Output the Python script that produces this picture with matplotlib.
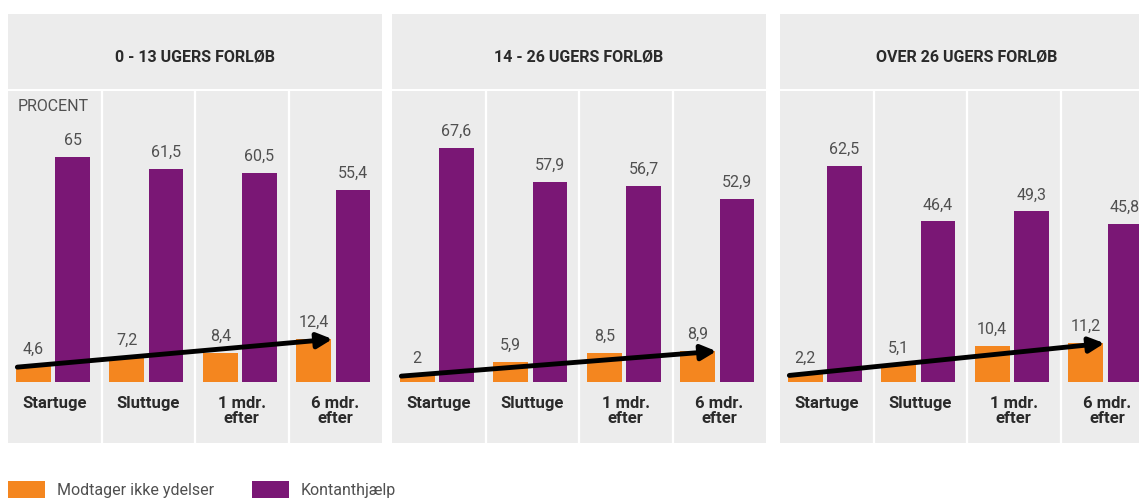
import matplotlib
matplotlib.use("Agg")
from matplotlib import pyplot as plt
from matplotlib.patches import Rectangle

W, H = 1139, 498

panels = ["0 - 13 UGERS FORLØB", "14 - 26 UGERS FORLØB", "OVER 26 UGERS FORLØB"]
categories = ["Startuge", "Sluttuge", "1 mdr.\nefter", "6 mdr.\nefter"]
ikke_ydelser = [[4.6, 7.2, 8.4, 12.4],
                [2, 5.9, 8.5, 8.9],
                [2.2, 5.1, 10.4, 11.2]]
kontanthjaelp = [[65, 61.5, 60.5, 55.4],
                 [67.6, 57.9, 56.7, 52.9],
                 [62.5, 46.4, 49.3, 45.8]]
legend_labels = ["Modtager ikke ydelser", "Kontanthjælp"]

ORANGE = "#f4861f"
PURPLE = "#7a1775"
PANEL_BG = "#ececec"
GREY_TXT = "#505050"
DARK_TXT = "#2a2a2a"
FONT = "Roboto"

plt.rcParams['font.family'] = [FONT, 'DejaVu Sans']

fig = plt.figure(figsize=(W / 100, H / 100), dpi=100)


def fbox(x0, y0, x1, y1):
    # pixel box (top-left origin) -> figure fraction rect
    return [x0 / W, 1 - y1 / H, (x1 - x0) / W, (y1 - y0) / H]


panel_left = [8, 392, 780]
panel_w = 374
top, head_bot, body_bot = 14, 89, 443
baseline = 382
px_per_unit = 3.46

fmt = lambda v: ("%g" % v).replace(".", ",")

for p, title in enumerate(panels):
    x0 = panel_left[p]
    x1 = x0 + panel_w
    # header
    fig.patches.append(Rectangle((x0 / W, 1 - head_bot / H), panel_w / W,
                                 (head_bot - top) / H, transform=fig.transFigure,
                                 facecolor=PANEL_BG, edgecolor="none"))
    fig.text((x0 + x1) / 2 / W, 1 - 57 / H, title, ha="center", va="center",
             fontsize=11.5, fontweight="bold", color=DARK_TXT)

    ax = fig.add_axes(fbox(x0, head_bot + 2, x1, body_bot))
    ax.set_facecolor(PANEL_BG)
    for s in ax.spines.values():
        s.set_visible(False)
    ax.set_xticks([])
    ax.set_yticks([])
    ax.set_xlim(0, 4)
    ax.set_ylim(-(body_bot - baseline) / px_per_unit,
                (baseline - head_bot - 2) / px_per_unit)
    for xv in (1, 2, 3):
        ax.axvline(xv, color="white", lw=1.6)

    xs = range(len(categories))
    xo = [i + 0.27 for i in xs]
    xp = [i + 0.69 for i in xs]
    ax.bar(xo, ikke_ydelser[p], width=0.375, color=ORANGE)
    ax.bar(xp, kontanthjaelp[p], width=0.365, color=PURPLE)
    for i in xs:
        ax.text(xo[i], ikke_ydelser[p][i] + 2.6, fmt(ikke_ydelser[p][i]),
                ha="center", va="bottom", fontsize=11.5, color=GREY_TXT)
        ax.text(xp[i], kontanthjaelp[p][i] + 2.6, fmt(kontanthjaelp[p][i]),
                ha="center", va="bottom", fontsize=11.5, color=GREY_TXT)
        ax.text(i + 0.5, -4.0, categories[i], ha="center", va="top",
                fontsize=12, fontweight="bold", color=DARK_TXT, linespacing=1.0)

    # trend arrow through the orange bars
    vals = ikke_ydelser[p]
    ax.annotate("", xy=(3.47, vals[-1]), xytext=(0.1, vals[0] - 0.3),
                arrowprops=dict(arrowstyle="-|>,head_length=0.9,head_width=0.45",
                                color="black", lw=3.5, shrinkA=0, shrinkB=0))
    if p == 0:
        ax.text(0.1, (baseline - 106) / px_per_unit, "PROCENT", ha="left",
                va="center", fontsize=11.5, color=GREY_TXT)

# legend
for k, (lab, col) in enumerate(zip(legend_labels, [ORANGE, PURPLE])):
    lx = [8, 252][k]
    fig.patches.append(Rectangle((lx / W, 1 - 500 / H), 37 / W, 19 / H,
                                 transform=fig.transFigure, facecolor=col,
                                 edgecolor="none"))
    fig.text((lx + 49) / W, 1 - 490 / H, lab, ha="left", va="center",
             fontsize=11.5, color=GREY_TXT)

fig.savefig("out.png", dpi=100, facecolor="white")
